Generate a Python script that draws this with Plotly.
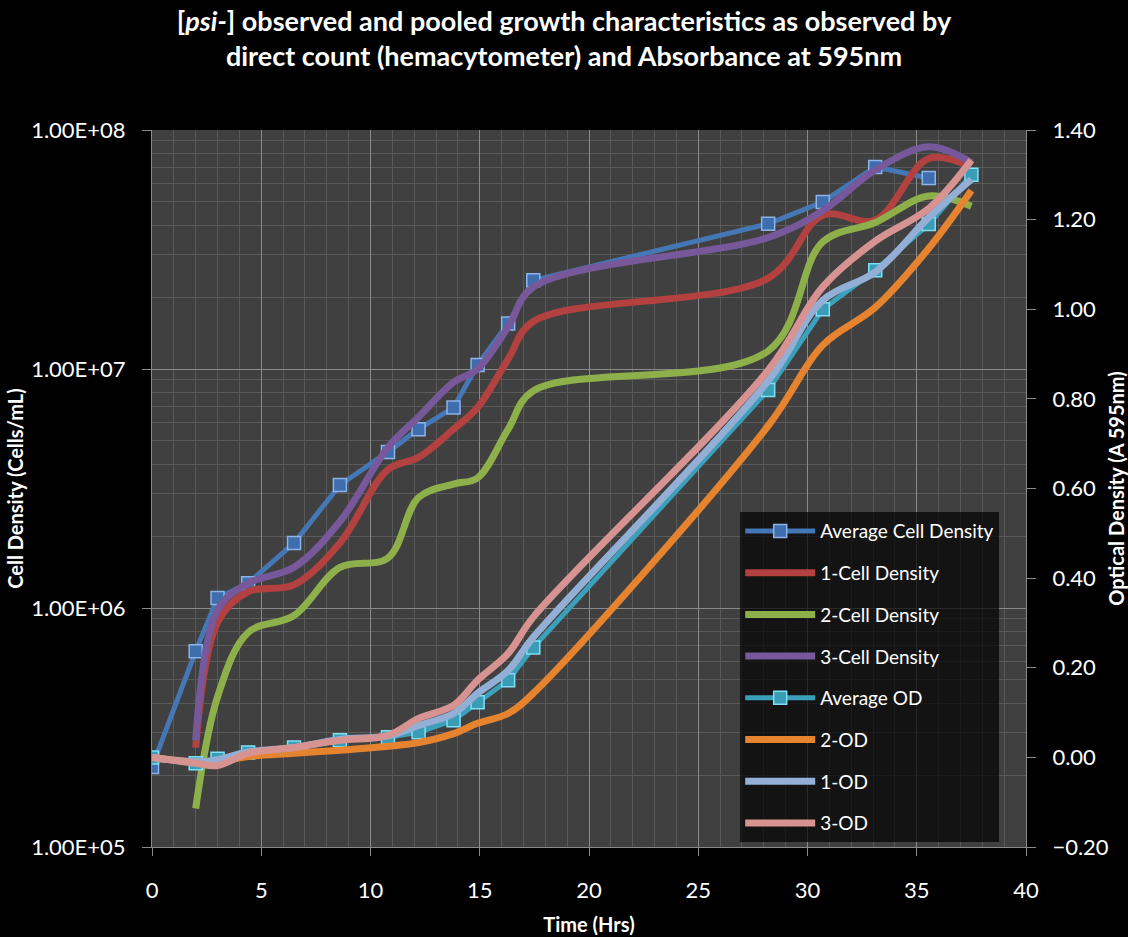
import plotly.graph_objects as go

# ---- data ----
time_avg_cd = [0, 2, 3, 4.4, 6.5, 8.6, 10.8, 12.2, 13.8, 14.9, 16.3, 17.45, 28.2, 30.7, 33.1, 35.55]
avg_cell_density = [2.16e5, 6.6e5, 1.1e6, 1.27e6, 1.87e6, 3.27e6, 4.5e6, 5.6e6, 6.9e6, 1.04e7, 1.55e7,
                    2.35e7, 4.05e7, 5.0e7, 7.0e7, 6.3e7]

time_ind = [2, 3, 4.4, 6.5, 8.6, 10.8, 12.2, 13.8, 14.9, 16.3, 17.45, 28.2, 30.7, 33.1, 35.55, 37.5]
cell_density_1 = [2.6e5, 8.7e5, 1.17e6, 1.25e6, 1.87e6, 3.8e6, 4.27e6, 5.6e6, 6.9e6, 1.1e7, 1.58e7,
                  2.4e7, 4.4e7, 4.2e7, 7.6e7, 7.0e7]
cell_density_2 = [1.45e5, 4.25e5, 7.9e5, 9.3e5, 1.48e6, 1.62e6, 2.9e6, 3.3e6, 3.5e6, 5.6e6, 8.1e6,
                  1.19e7, 3.4e7, 4.1e7, 5.3e7, 4.8e7]
cell_density_3 = [2.8e5, 9.8e5, 1.27e6, 1.48e6, 2.3e6, 4.7e6, 6.3e6, 8.8e6, 1.0e7, 1.5e7, 2.2e7,
                  3.55e7, 4.6e7, 6.8e7, 8.5e7, 7.3e7]

time_od = [0, 2, 3, 4.4, 6.5, 8.6, 10.8, 12.2, 13.8, 14.9, 16.3, 17.45, 28.2, 30.7, 33.1, 35.55, 37.5]
avg_od = [0.0, -0.013, -0.003, 0.011, 0.022, 0.038, 0.045, 0.056, 0.083, 0.123, 0.172, 0.245,
          0.82, 1.0, 1.087, 1.19, 1.30]
od_2 = [0.0, -0.01, -0.01, 0.002, 0.009, 0.016, 0.025, 0.033, 0.053, 0.076, 0.098, 0.143,
        0.74, 0.92, 1.004, 1.136, 1.265]
od_1 = [0.0, -0.01, -0.005, 0.012, 0.022, 0.04, 0.048, 0.071, 0.098, 0.143, 0.194, 0.268,
        0.84, 1.02, 1.083, 1.205, 1.29]
od_3 = [0.0, -0.013, -0.018, 0.009, 0.022, 0.038, 0.049, 0.087, 0.116, 0.172, 0.232, 0.313,
        0.864, 1.05, 1.152, 1.225, 1.333]

left_tickvals = [1e5, 1e6, 1e7, 1e8]
left_ticktext = ["1.00E+05", "1.00E+06", "1.00E+07", "1.00E+08"]
minor_log = [m * 10 ** e for e in range(5, 8) for m in range(2, 10)]

FONT = "Lato"
fig = go.Figure()

fig.add_trace(go.Scatter(x=time_avg_cd, y=avg_cell_density, name="Average Cell Density",
                         mode="lines+markers", legendgroup="a",
                         line=dict(color="#4677B5", width=5),
                         marker=dict(symbol="square", size=13, color="#3E6EAD",
                                     line=dict(color="#8DB3E8", width=1.5)), yaxis="y"))
fig.add_trace(go.Scatter(x=time_ind, y=cell_density_1, name="1-Cell Density", mode="lines",
                         legendgroup="b", line=dict(color="#B2413F", width=7, shape="spline", smoothing=1),
                         yaxis="y"))
fig.add_trace(go.Scatter(x=time_ind, y=cell_density_2, name="2-Cell Density", mode="lines",
                         legendgroup="c", line=dict(color="#8DB04A", width=7, shape="spline", smoothing=1),
                         yaxis="y"))
fig.add_trace(go.Scatter(x=time_ind, y=cell_density_3, name="3-Cell Density", mode="lines",
                         legendgroup="d", line=dict(color="#77589A", width=7, shape="spline", smoothing=1),
                         yaxis="y"))
fig.add_trace(go.Scatter(x=time_od, y=avg_od, name="Average OD", mode="lines+markers",
                         legendgroup="e", line=dict(color="#3CA0BA", width=5),
                         marker=dict(symbol="square", size=13, color="#3A9DB6",
                                     line=dict(color="#7FE0F5", width=1.5)), yaxis="y2"))
fig.add_trace(go.Scatter(x=time_od, y=od_2, name="2-OD", mode="lines", legendgroup="f",
                         line=dict(color="#E5832F", width=7, shape="spline", smoothing=1), yaxis="y2"))
fig.add_trace(go.Scatter(x=time_od, y=od_1, name="1-OD", mode="lines", legendgroup="g",
                         line=dict(color="#93AFD6", width=7, shape="spline", smoothing=1), yaxis="y2"))
fig.add_trace(go.Scatter(x=time_od, y=od_3, name="3-OD", mode="lines", legendgroup="h",
                         line=dict(color="#D69392", width=7, shape="spline", smoothing=1), yaxis="y2"))

tick_font = dict(family=FONT, size=22, color="white")
title_font = dict(family=FONT, size=20, color="white", weight="bold")
fig.update_layout(
    width=1128, height=937,
    paper_bgcolor="black", plot_bgcolor="#404040",
    margin=dict(l=152, r=102, t=130, b=90, autoexpand=False),
    title=dict(text="[<i>psi-</i>] observed and pooled growth characteristics as observed by<br>"
                    "direct count (hemacytometer) and Absorbance at 595nm",
               x=0.5, xanchor="center", yref="container", y=1 - 31 / 937, yanchor="middle",
               font=dict(family=FONT, size=27, color="white", weight="bold")),
    xaxis=dict(range=[0, 40], dtick=5, tick0=0, showgrid=True, gridcolor="#8A8A8A", gridwidth=1,
               minor=dict(dtick=1, showgrid=True, gridcolor="#5A5A5A", ticks=""),
               ticks="outside", ticklen=8, tickcolor="#8A8A8A", showline=True, linecolor="#8A8A8A",
               zeroline=False, tickfont=tick_font, automargin=False, ticklabelstandoff=16,
               title=dict(text="Time (Hrs)", standoff=15, font=title_font)),
    yaxis=dict(type="log", range=[5, 8], tickmode="array", tickvals=left_tickvals,
               ticktext=left_ticktext, showgrid=True, gridcolor="#8A8A8A",
               minor=dict(tickmode="array", tickvals=minor_log, showgrid=True,
                          gridcolor="#5A5A5A", ticks=""),
               ticks="outside", ticklen=9, tickcolor="#8A8A8A", showline=True, linecolor="#8A8A8A",
               zeroline=False, tickfont=tick_font, automargin=False, ticklabelstandoff=12,
               title=dict(text="Cell Density (Cells/mL)", standoff=2, font=title_font)),
    yaxis2=dict(overlaying="y", side="right", range=[-0.2, 1.4], dtick=0.2, tick0=-0.2,
                tickformat=".2f", showgrid=False, zeroline=False,
                ticks="outside", ticklen=9, tickcolor="#8A8A8A", showline=True, linecolor="#8A8A8A",
                tickfont=tick_font, automargin=False, ticklabelstandoff=12,
                title=dict(text="Optical Density (A 595nm)", standoff=4, font=title_font)),
    legend=dict(x=0.673, y=0.467, xanchor="left", yanchor="top",
                bgcolor="rgba(0,0,0,0.7)", borderwidth=0,
                font=dict(family=FONT, size=19, color="white"),
                tracegroupgap=14, itemwidth=70,
                traceorder="grouped"),
    showlegend=True,
)

fig.write_html("out.html", config={"displayModeBar": False},
               post_script="document.body.style.margin='0';document.body.style.background='black';")
